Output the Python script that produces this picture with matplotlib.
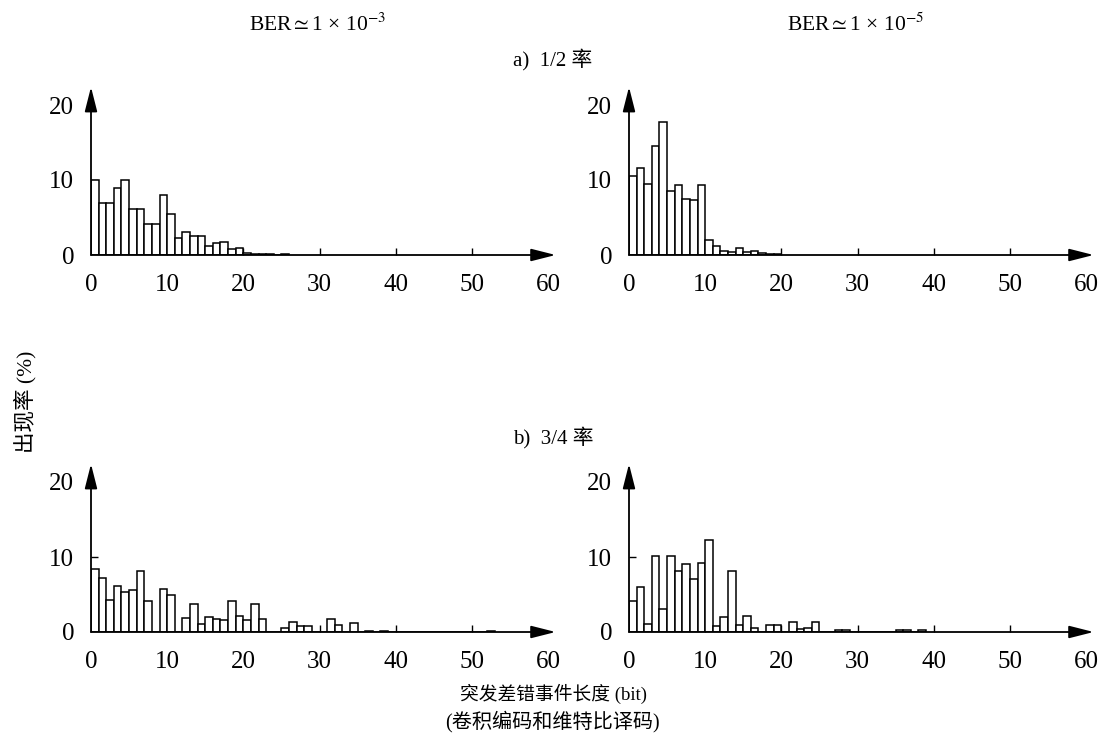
import numpy as np
import matplotlib
matplotlib.use("Agg")
import matplotlib.pyplot as plt

plt.rcParams['font.family'] = ['Liberation Serif', 'Noto Sans CJK SC']
plt.rcParams['mathtext.fontset'] = 'stix'

# burst length histograms (percent per 1-bit bin)
half_ber3 = [10, 7, 7, 9, 10, 6.1, 6.1, 4.1, 4.1, 8, 5.5, 2.3, 3.1, 2.6, 2.6,
             1.2, 1.6, 1.7, 0.8, 0.9, 0.3, 0.2, 0.15, 0.15, 0, 0.15]
half_ber5 = [10.5, 11.6, 9.5, 14.6, 17.8, 8.5, 9.3, 7.5, 7.4, 9.3, 2.0, 1.2,
             0.5, 0.35, 1.0, 0.35, 0.5, 0.27, 0.1, 0.1]
tq_ber3 = [8.4, 7.2, 4.3, 6.1, 5.3, 5.6, 8.1, 4.1, 0, 5.8, 5.0, 0, 1.9, 3.8,
           1.1, 2.0, 1.7, 1.6, 4.2, 2.1, 1.6, 3.7, 1.8, 0, 0, 0.5, 1.4, 0.8,
           0.8, 0, 0, 1.7, 0.9, 0, 1.2, 0, 0.2, 0, 0.15, 0.05, 0.05,
           0, 0, 0, 0, 0, 0, 0, 0, 0, 0, 0, 0.2]
tq_ber5 = [4.2, 6.0, 1.1, 10.2, 3.1, 10.2, 8.1, 9.1, 7.1, 9.2, 12.3, 0.8, 2.0,
           8.2, 0.9, 2.1, 0.5, 0, 0.9, 0.9, 0, 1.3, 0.4, 0.5, 1.3, 0, 0, 0.25,
           0.25, 0, 0, 0, 0, 0, 0, 0.25, 0.25, 0, 0.25]

xticks = [0, 10, 20, 30, 40, 50, 60]
yticks = [0, 10, 20]

W, H = 1106, 747
fig = plt.figure(figsize=(W / 100, H / 100), dpi=100)


def panel(x0, y0, vals):
    # x0: pixel of x=0, y0: pixel row of y=0
    ax = fig.add_axes([x0 / W, (H - y0) / H, 457 / W, 150 / H])
    ax.bar(np.arange(len(vals)), vals, width=1, align='edge',
           color='white', edgecolor='black', linewidth=1.1, zorder=3)
    ax.set_xlim(0, 60)
    ax.set_ylim(0, 20)
    for s in ax.spines.values():
        s.set_visible(False)
    ax.set_xticks(xticks)
    ax.set_yticks(yticks)
    ax.tick_params(direction='in', length=5, width=1, labelsize=18)
    ax.tick_params(axis='x', pad=14)
    ax.tick_params(axis='y', pad=12)
    # no tick marks under the arrow heads / at the origin
    for t in (ax.xaxis.get_major_ticks()[0], ax.xaxis.get_major_ticks()[-1],
              ax.yaxis.get_major_ticks()[0], ax.yaxis.get_major_ticks()[-1]):
        t.tick1line.set_visible(False)
    ap = dict(arrowstyle='-|>,head_length=1.5,head_width=0.38', color='black',
              lw=1.3, shrinkA=0, shrinkB=0, mutation_scale=10)
    ax.annotate('', xy=(61, 0), xytext=(0, 0), arrowprops=ap,
                annotation_clip=False, zorder=4)
    ax.annotate('', xy=(0, 22.4), xytext=(0, 0), arrowprops=ap,
                annotation_clip=False, zorder=4)
    return ax


panel(91, 255, half_ber3)
panel(629, 255, half_ber5)
panel(91, 632, tq_ber3)
panel(629, 632, tq_ber5)


def ftext(x, y, s, **kw):
    fig.text(x / W, 1 - y / H, s, ha='center', va='center', **kw)


ftext(318, 25, r'BER$\simeq$1 × 10$^{-3}$', fontsize=15.5)
ftext(856, 25, r'BER$\simeq$1 × 10$^{-5}$', fontsize=15.5)
ftext(553, 60, 'a)  1/2 率', fontsize=15)
ftext(553, 438, 'b)  3/4 率', fontsize=15)
ftext(25, 402, '出现率 (%)', fontsize=15.5, rotation=90)
ftext(553, 694, '突发差错事件长度 (bit)', fontsize=13.5)
ftext(552, 722, '(卷积编码和维特比译码)', fontsize=14.5)

fig.savefig('out.png', dpi=100)
